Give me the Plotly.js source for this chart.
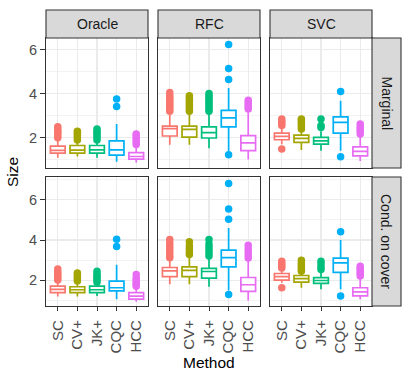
<!DOCTYPE html>
<html>
<head>
<meta charset="utf-8">
<script src="https://cdn.plot.ly/plotly-3.0.1.min.js"></script>
<style>
  html, body { margin: 0; padding: 0; background: #fff; }
  #chart { width: 411px; height: 380px; }
</style>
</head>
<body>
<div id="chart"></div>
<script>
// facets
var models = ['Oracle', 'RFC', 'SVC'];
var settings = ['Marginal', 'Cond. on cover'];
var methods = ['SC', 'CV+', 'JK+', 'CQC', 'HCC'];
var colors = ['#F8766D', '#A3A500', '#00BF7D', '#00B0F6', '#E76BF3'];

// box stats, [model][method]
// Marginal row
var margQ1  = [[1.30, 1.30, 1.30, 1.21, 1.03], [2.08, 2.03, 1.99, 2.49, 1.42], [1.91, 1.79, 1.71, 2.21, 1.18]];
var margMed = [[1.43, 1.44, 1.45, 1.45, 1.15], [2.41, 2.38, 2.23, 2.90, 1.77], [2.06, 1.97, 1.86, 2.70, 1.38]];
var margQ3  = [[1.62, 1.65, 1.65, 1.86, 1.33], [2.53, 2.53, 2.49, 3.24, 2.10], [2.21, 2.12, 2.02, 2.95, 1.59]];
var margLo  = [[1.10, 1.15, 1.10, 0.91, 0.88], [1.68, 1.68, 1.53, 1.38, 1.01], [1.71, 1.45, 1.41, 1.41, 0.95]];
var margHi  = [[1.95, 1.85, 1.85, 2.62, 1.60], [3.05, 3.10, 3.10, 4.26, 3.15], [2.50, 2.35, 2.30, 3.68, 2.10]];
var margOut = [
  [[2.0, 2.1, 2.2, 2.3, 2.4, 2.5], [1.9, 2.0, 2.1, 2.2, 2.3], [1.9, 2.0, 2.1, 2.2, 2.3, 2.4], [3.42, 3.76], [1.7, 1.8, 1.9, 2.0, 2.1, 2.17]],
  [[3.2, 3.3, 3.4, 3.5, 3.6, 3.7, 3.8, 3.9, 4.05], [3.2, 3.3, 3.4, 3.5, 3.6, 3.7, 3.8, 3.9], [3.2, 3.3, 3.4, 3.5, 3.6, 3.7, 3.8, 3.9, 4.0], [1.23, 4.64, 5.14, 6.23], [3.3, 3.4, 3.5, 3.6, 3.7]],
  [[1.49, 2.55, 2.65, 2.75, 2.85], [2.4, 2.5, 2.6, 2.7, 2.8, 2.85], [2.47, 2.55, 2.85], [1.14, 4.10], [2.17, 2.3, 2.4, 2.5, 2.62]]
];
// Cond. on cover row
var condQ1  = [[1.38, 1.38, 1.38, 1.46, 1.05], [2.17, 2.17, 2.10, 2.66, 1.44], [2.00, 1.90, 1.84, 2.39, 1.21]];
var condMed = [[1.54, 1.52, 1.52, 1.62, 1.20], [2.46, 2.49, 2.43, 3.12, 1.77], [2.17, 2.07, 1.98, 2.86, 1.41]];
var condQ3  = [[1.70, 1.67, 1.70, 1.95, 1.38], [2.63, 2.66, 2.59, 3.50, 2.13], [2.33, 2.23, 2.12, 3.10, 1.62]];
var condLo  = [[1.18, 1.18, 1.21, 1.05, 0.92], [1.80, 1.80, 1.67, 1.48, 0.99], [1.87, 1.62, 1.54, 1.54, 1.05]];
var condHi  = [[1.92, 1.90, 1.85, 2.77, 1.65], [3.05, 3.20, 3.15, 4.60, 3.00], [2.55, 2.40, 2.40, 4.00, 2.15]];
var condOut = [
  [[2.0, 2.1, 2.2, 2.3, 2.4, 2.56], [1.95, 2.05, 2.15, 2.25, 2.36], [1.9, 2.0, 2.1, 2.2, 2.3, 2.44], [3.68, 4.04], [1.7, 1.8, 1.9, 2.0, 2.1, 2.28]],
  [[3.12, 3.25, 3.4, 3.55, 3.7, 3.85, 4.02], [3.28, 3.4, 3.55, 3.7, 3.91], [3.2, 3.35, 3.5, 3.65, 3.8, 4.02], [1.28, 5.04, 5.55, 6.81], [3.1, 3.25, 3.4, 3.55, 3.74]],
  [[1.62, 2.61, 2.7, 2.8, 2.94], [2.44, 2.55, 2.65, 2.75, 2.85, 2.99], [2.53, 2.65, 2.8, 2.94], [1.21, 4.41], [2.2, 2.3, 2.4, 2.5, 2.6, 2.69]]
];

var yTicks = [2, 4, 6];
var yMinor = [1, 3, 5, 7];
var yRanges = [[0.63, 6.52], [0.71, 7.14]];

// page geometry in pixels
var W = 411, H = 380;
var colX = [[46, 148], [158, 260], [270, 372]];
var rowY = [[38, 168], [177, 306]];
function fx(x) { return x / W; }
function fy(y) { return 1 - y / H; }

var font = 'Liberation Sans, Arial, sans-serif';
var rows = [
  {q1: margQ1, med: margMed, q3: margQ3, lo: margLo, hi: margHi, out: margOut},
  {q1: condQ1, med: condMed, q3: condQ3, lo: condLo, hi: condHi, out: condOut}
];

var data = [];
var layout = {
  width: W, height: H,
  margin: {l: 0, r: 0, t: 0, b: 0},
  paper_bgcolor: '#fff', plot_bgcolor: '#fff',
  showlegend: false,
  font: {family: font, size: 14, color: '#4D4D4D'},
  shapes: [], annotations: []
};

for (var r = 0; r < 2; r++) {
  for (var c = 0; c < 3; c++) {
    var k = r * 3 + c + 1;
    var xa = 'x' + (k === 1 ? '' : k), ya = 'y' + (k === 1 ? '' : k);
    var st = rows[r];
    for (var m = 0; m < methods.length; m++) {
      data.push({
        type: 'box', x: [methods[m]],
        q1: [st.q1[c][m]], median: [st.med[c][m]], q3: [st.q3[c][m]],
        lowerfence: [st.lo[c][m]], upperfence: [st.hi[c][m]],
        boxpoints: false, width: 0.75, whiskerwidth: 0,
        fillcolor: '#fff', line: {color: colors[m], width: 1.7},
        xaxis: xa, yaxis: ya, hoverinfo: 'skip'
      });
      var out = st.out[c][m];
      data.push({
        type: 'scatter', mode: 'markers',
        x: out.map(function () { return methods[m]; }), y: out,
        marker: {color: colors[m], size: 7.5},
        xaxis: xa, yaxis: ya, hoverinfo: 'skip'
      });
    }
    layout['xaxis' + (k === 1 ? '' : k)] = {
      domain: [fx(colX[c][0]), fx(colX[c][1])], anchor: ya,
      type: 'category', categoryarray: methods, categoryorder: 'array',
      range: [-0.6, 4.6], showgrid: true, gridcolor: '#EBEBEB', gridwidth: 1.1,
      showline: true, mirror: true, linecolor: '#333333', linewidth: 1.1,
      zeroline: false, fixedrange: true,
      ticks: r === 1 ? 'outside' : '', ticklen: 4, tickcolor: '#333333', tickwidth: 1,
      showticklabels: r === 1, tickangle: -90, ticklabelstandoff: 3,
      tickfont: {family: font, size: 15, color: '#4D4D4D'}
    };
    layout['yaxis' + (k === 1 ? '' : k)] = {
      domain: [fy(rowY[r][1]), fy(rowY[r][0])], anchor: xa,
      range: yRanges[r], tickvals: yTicks,
      showgrid: true, gridcolor: '#EBEBEB', gridwidth: 1.1,
      minor: {tickvals: yMinor, showgrid: true, gridcolor: '#EBEBEB', gridwidth: 0.6, ticks: ''},
      showline: true, mirror: true, linecolor: '#333333', linewidth: 1.1,
      zeroline: false, fixedrange: true,
      ticks: c === 0 ? 'outside' : '', ticklen: 5, tickcolor: '#333333', tickwidth: 1,
      showticklabels: c === 0,
      tickfont: {family: font, size: 14.5, color: '#4D4D4D'}
    };
  }
}

function label(x, y, text, angle, size, color) {
  layout.annotations.push({xref: 'paper', yref: 'paper', showarrow: false,
    x: fx(x), y: fy(y), xanchor: 'center', yanchor: 'middle',
    text: text, textangle: angle, font: {family: font, size: size, color: color}});
}

// strips on top
for (var c2 = 0; c2 < 3; c2++) {
  layout.shapes.push({type: 'rect', xref: 'paper', yref: 'paper',
    x0: fx(colX[c2][0]), x1: fx(colX[c2][1]), y0: fy(38), y1: fy(10),
    fillcolor: '#D9D9D9', line: {color: '#333333', width: 1.1}});
  label((colX[c2][0] + colX[c2][1]) / 2, 24, models[c2], 0, 14, '#1A1A1A');
}
// strips on the right
for (var r2 = 0; r2 < 2; r2++) {
  layout.shapes.push({type: 'rect', xref: 'paper', yref: 'paper',
    x0: fx(372), x1: fx(401), y0: fy(rowY[r2][1]), y1: fy(rowY[r2][0]),
    fillcolor: '#D9D9D9', line: {color: '#333333', width: 1.1}});
  label(386.5, (rowY[r2][0] + rowY[r2][1]) / 2, settings[r2], 90, 14, '#1A1A1A');
}
// axis titles
label(12, 172, 'Size', -90, 15.5, '#000');
label(209, 362, 'Method', 0, 15.5, '#000');

Plotly.newPlot('chart', data, layout, {staticPlot: true});
</script>
</body>
</html>
